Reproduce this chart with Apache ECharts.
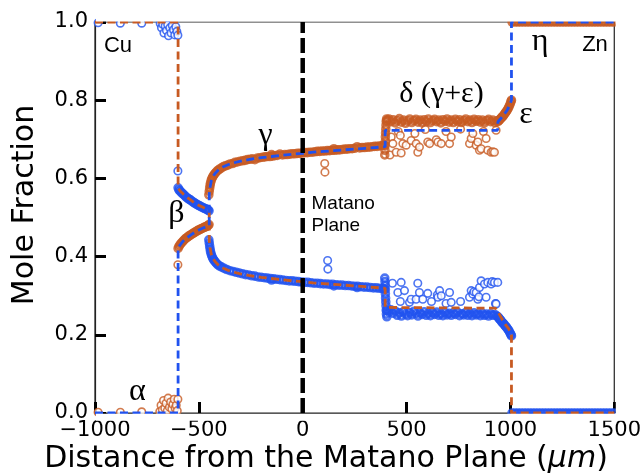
<!DOCTYPE html>
<html>
<head>
<meta charset="utf-8">
<script src="https://cdn.jsdelivr.net/npm/echarts@6/dist/echarts.min.js"></script>
<style>
  html, body { margin: 0; padding: 0; background: #fff; }
  #chart { width: 644px; height: 476px; }
</style>
</head>
<body>
<div id="chart"></div>
<script>
// Cu–Zn diffusion couple: measured mole fractions (circles) and fitted profiles (dashed)

const xTicks = [-1000, -500, 0, 500, 1000, 1500];
const yTicks = [0.0, 0.2, 0.4, 0.6, 0.8, 1.0];

// ---- Zn measurements (orange circles) ----
const znAlpha = [[-985,0.002],[-878,0.002],[-775,0.003],[-688,0.004],[-682,0.02],[-676,0.008],[-670,0.032],[-664,0.012],[-658,0.025],[-652,0.006],[-648,0.038],[-642,0.015],[-636,0.028],[-630,0.01],[-625,0.022],[-619,0.035],[-614,0.012],[-609,0.02],[-604,0.006],[-601,0.035]];
const znEdge = [[-601,0.379]];
const znBeta = [[-600,0.421],[-596,0.426],[-591,0.43],[-586,0.434],[-580,0.437],[-574,0.441],[-568,0.444],[-562,0.447],[-556,0.449],[-550,0.452],[-544,0.454],[-538,0.456],[-532,0.458],[-526,0.46],[-520,0.462],[-514,0.464],[-508,0.466],[-502,0.468],[-496,0.469],[-490,0.471],[-484,0.472],[-478,0.474],[-472,0.475],[-466,0.477],[-460,0.478],[-455,0.48],[-451,0.482]];
const znGammaOut = [[106,0.638],[107,0.616]];
const znGamma = [[-452,0.558],[-450,0.567],[-448,0.575],[-446,0.582],[-444,0.588],[-441,0.594],[-438,0.599],[-434,0.603],[-430,0.607],[-425,0.611],[-420,0.614],[-414,0.618],[-407,0.621],[-400,0.624],[-391,0.627],[-382,0.63],[-372,0.632],[-361,0.634],[-350,0.637],[-338,0.638],[-326,0.641],[-314,0.642],[-302,0.644],[-290,0.645],[-278,0.646],[-266,0.648],[-254,0.649],[-242,0.65],[-230,0.648],[-218,0.652],[-206,0.653],[-194,0.654],[-182,0.655],[-170,0.656],[-158,0.656],[-150,0.661],[-146,0.657],[-134,0.658],[-122,0.659],[-110,0.662],[-98,0.66],[-86,0.661],[-74,0.661],[-62,0.662],[-50,0.663],[-38,0.663],[-26,0.664],[-14,0.664],[-2,0.665],[10,0.666],[22,0.666],[34,0.667],[46,0.667],[58,0.668],[70,0.669],[82,0.669],[94,0.67],[106,0.67],[118,0.671],[130,0.671],[142,0.672],[150,0.676],[154,0.672],[166,0.673],[178,0.673],[190,0.674],[202,0.675],[214,0.675],[226,0.676],[238,0.676],[250,0.677],[262,0.681],[274,0.678],[286,0.679],[298,0.679],[310,0.68],[322,0.68],[334,0.681],[346,0.682],[358,0.682],[370,0.683],[382,0.684],[393,0.685]];
const znDeltaOut = [[420,0.66],[426,0.706],[434,0.689],[450,0.667],[460,0.72],[470,0.71],[474,0.665],[482,0.689],[498,0.685],[522,0.697],[540,0.715],[546,0.689],[554,0.667],[562,0.68],[590,0.725],[602,0.693],[611,0.689],[643,0.699],[651,0.693],[667,0.689],[690,0.72],[707,0.689],[715,0.706],[760,0.726],[803,0.689],[811,0.702],[819,0.715],[835,0.685],[843,0.693],[851,0.672],[859,0.676],[870,0.72],[883,0.702],[891,0.672],[907,0.667],[915,0.668],[923,0.667],[931,0.723]];
const znDeltaStep = [[395,0.66],[396,0.672],[397,0.684],[398,0.695],[398,0.706],[399,0.716],[400,0.726],[401,0.736],[402,0.746],[404,0.752]];
const znDelta = [[405,0.748],[415,0.752],[425,0.745],[435,0.75],[445,0.742],[455,0.748],[465,0.753],[475,0.744],[485,0.749],[495,0.741],[505,0.747],[515,0.752],[525,0.743],[535,0.748],[545,0.751],[555,0.744],[565,0.749],[575,0.742],[585,0.75],[595,0.745],[605,0.752],[615,0.743],[625,0.748],[635,0.751],[645,0.745],[655,0.749],[665,0.742],[675,0.75],[685,0.746],[695,0.752],[705,0.744],[715,0.749],[725,0.743],[735,0.751],[745,0.746],[755,0.75],[765,0.743],[775,0.748],[785,0.752],[795,0.745],[805,0.749],[815,0.743],[825,0.751],[835,0.746],[845,0.75],[855,0.744],[865,0.749],[875,0.742],[885,0.748],[895,0.751],[905,0.745],[915,0.749],[925,0.743],[935,0.747]];
const znEps = [[940,0.745],[944,0.748],[948,0.75],[952,0.752],[956,0.755],[960,0.757],[964,0.759],[968,0.762],[972,0.765],[976,0.768],[980,0.771],[984,0.774],[988,0.778],[992,0.782],[996,0.787],[1000,0.792],[1003,0.797],[1005,0.8]];
const znEta = [[1008,1],[1022,1],[1036,1],[1050,1],[1064,1],[1078,1],[1092,1],[1106,1],[1120,1],[1134,1],[1148,1],[1162,1],[1176,1],[1190,1],[1204,1],[1218,1],[1232,1],[1246,1],[1260,1],[1274,1],[1288,1],[1302,1],[1316,1],[1330,1],[1344,1],[1358,1],[1372,1],[1386,1],[1400,1],[1414,1],[1428,1],[1442,1],[1456,1],[1470,1],[1484,1],[1498,1]];

// ---- Cu measurements (blue circles) ----
const cuAlpha = [[-985,0.998],[-878,0.997],[-775,0.997],[-686,0.996],[-680,0.985],[-674,0.994],[-668,0.972],[-662,0.99],[-656,0.978],[-650,0.993],[-646,0.965],[-640,0.985],[-634,0.972],[-628,0.991],[-622,0.98],[-616,0.967],[-611,0.988],[-606,0.976],[-601,0.966]];
const cuEdge = [[-601,0.619]];
const cuBeta = [[-600,0.576],[-596,0.571],[-591,0.568],[-586,0.565],[-580,0.562],[-574,0.559],[-568,0.556],[-562,0.553],[-556,0.55],[-550,0.548],[-544,0.546],[-538,0.544],[-532,0.541],[-526,0.539],[-520,0.537],[-514,0.535],[-508,0.533],[-502,0.531],[-496,0.53],[-490,0.528],[-484,0.526],[-478,0.525],[-472,0.523],[-466,0.522],[-460,0.52],[-455,0.519],[-451,0.517]];
const cuGammaOut = [[120,0.39],[121,0.368]];
const cuGamma = [[-452,0.443],[-450,0.435],[-448,0.427],[-446,0.42],[-444,0.413],[-441,0.407],[-438,0.402],[-434,0.397],[-430,0.393],[-425,0.389],[-420,0.386],[-414,0.382],[-408,0.379],[-400,0.376],[-390,0.373],[-378,0.37],[-365,0.367],[-350,0.364],[-335,0.362],[-320,0.36],[-305,0.358],[-290,0.356],[-275,0.354],[-260,0.353],[-245,0.351],[-230,0.35],[-215,0.348],[-200,0.347],[-185,0.346],[-170,0.345],[-155,0.344],[-150,0.34],[-140,0.343],[-125,0.342],[-110,0.341],[-95,0.34],[-80,0.339],[-65,0.338],[-50,0.338],[-35,0.337],[-20,0.336],[-5,0.335],[10,0.334],[25,0.334],[40,0.333],[55,0.332],[70,0.332],[85,0.331],[100,0.33],[115,0.33],[130,0.329],[145,0.329],[150,0.325],[160,0.328],[175,0.327],[190,0.327],[205,0.326],[220,0.326],[235,0.325],[250,0.324],[262,0.321],[265,0.324],[280,0.323],[295,0.322],[310,0.322],[325,0.321],[340,0.32],[355,0.32],[370,0.319],[385,0.318],[393,0.317]];
const cuDeltaOut = [[432,0.332],[458,0.308],[470,0.285],[474,0.334],[490,0.313],[514,0.283],[522,0.291],[546,0.291],[554,0.332],[562,0.308],[578,0.291],[602,0.306],[620,0.285],[648,0.302],[651,0.296],[659,0.313],[667,0.3],[690,0.28],[707,0.308],[715,0.283],[760,0.285],[803,0.296],[811,0.313],[819,0.304],[824,0.31],[835,0.308],[843,0.291],[848,0.297],[851,0.321],[859,0.338],[875,0.33],[883,0.296],[891,0.334],[907,0.33],[912,0.336],[923,0.334],[928,0.28],[931,0.279],[939,0.334]];
const cuDeltaStep = [[395,0.345],[396,0.336],[397,0.326],[398,0.316],[398,0.305],[399,0.294],[400,0.284],[401,0.274],[402,0.263],[403,0.253],[405,0.246]];
const cuDelta = [[405,0.262],[415,0.258],[425,0.264],[435,0.255],[445,0.261],[455,0.25],[465,0.256],[475,0.248],[485,0.259],[495,0.253],[505,0.249],[515,0.257],[525,0.251],[535,0.26],[545,0.254],[555,0.248],[565,0.256],[575,0.252],[585,0.259],[595,0.25],[605,0.255],[615,0.249],[625,0.257],[635,0.252],[645,0.258],[655,0.25],[665,0.254],[675,0.249],[685,0.257],[695,0.251],[705,0.255],[715,0.25],[725,0.256],[735,0.252],[745,0.258],[755,0.249],[765,0.254],[775,0.251],[785,0.257],[795,0.25],[805,0.255],[815,0.249],[825,0.256],[835,0.251],[845,0.254],[855,0.249],[865,0.255],[875,0.25],[885,0.253],[895,0.248],[905,0.254],[915,0.25],[925,0.252],[935,0.248]];
const cuEps = [[940,0.246],[944,0.243],[948,0.24],[952,0.238],[956,0.235],[960,0.232],[964,0.23],[968,0.228],[972,0.225],[976,0.222],[980,0.22],[984,0.217],[988,0.214],[992,0.211],[996,0.207],[1000,0.203],[1003,0.2],[1005,0.197]];
const cuEta = [[1008,0],[1022,0],[1036,0],[1050,0],[1064,0],[1078,0],[1092,0],[1106,0],[1120,0],[1134,0],[1148,0],[1162,0],[1176,0],[1190,0],[1204,0],[1218,0],[1232,0],[1246,0],[1260,0],[1274,0],[1288,0],[1302,0],[1316,0],[1330,0],[1344,0],[1358,0],[1372,0],[1386,0],[1400,0],[1414,0],[1428,0],[1442,0],[1456,0],[1470,0],[1484,0],[1498,0]];

// ---- fitted profiles ----
const znFit = [[-1000,0],[-600,0],[-600,0.422],[-590,0.43],[-575,0.44],[-560,0.447],[-540,0.455],[-520,0.462],[-500,0.468],[-480,0.473],[-460,0.477],[-450,0.48],[-450,0.56],[-446,0.578],[-440,0.594],[-432,0.605],[-420,0.614],[-405,0.622],[-385,0.629],[-360,0.635],[-330,0.64],[-300,0.644],[-250,0.649],[-200,0.653],[-150,0.656],[-100,0.659],[-50,0.662],[0,0.664],[50,0.667],[100,0.669],[150,0.671],[200,0.673],[250,0.675],[300,0.677],[350,0.679],[397,0.681],[397,0.723],[938,0.723],[940,0.745],[960,0.757],[984,0.774],[998,0.79],[1005,0.8],[1005,1],[1500,1]];
const cuFit = [[-1000,1],[-600,1],[-600,0.575],[-590,0.568],[-575,0.56],[-560,0.553],[-540,0.545],[-520,0.537],[-500,0.531],[-480,0.526],[-460,0.521],[-450,0.518],[-450,0.44],[-446,0.422],[-440,0.406],[-432,0.395],[-420,0.386],[-405,0.378],[-385,0.371],[-360,0.365],[-330,0.36],[-300,0.356],[-250,0.351],[-200,0.347],[-150,0.344],[-100,0.341],[-50,0.338],[0,0.336],[50,0.333],[100,0.331],[150,0.329],[200,0.327],[250,0.325],[300,0.323],[350,0.321],[397,0.319],[397,0.27],[928,0.268],[945,0.254],[968,0.232],[992,0.215],[1005,0.2],[1005,0],[1500,0]];

// Matano plane position
const matano = [[0,0],[0,1]];

const ORANGE = '#c75a22';
const BLUE = '#2052ef';

const GRID = { left: 95, right: 29, top: 22, bottom: 63 };
const W = 644, H = 476;

const chart = echarts.init(document.getElementById('chart'), null, { renderer: 'canvas' });

// isolated measurement points: thin open circles
function circles(name, color, data) {
  return {
    name, type: 'scatter', data, z: 2,
    symbol: 'circle', symbolSize: 7.5,
    itemStyle: { color: '#fff', borderColor: color, borderWidth: 1.6 },
    emphasis: { disabled: true }, animation: false
  };
}
// closely spaced measurement points along a phase: rings merge into a band
function band(name, color, data) {
  return {
    name, type: 'scatter', data, z: 2,
    symbol: 'circle', symbolSize: 7,
    itemStyle: { color: 'rgba(255,255,255,0)', borderColor: color, borderWidth: 2.6 },
    emphasis: { disabled: true }, animation: false
  };
}
function fit(name, color, data) {
  return {
    name, type: 'line', data, z: 3, symbol: 'none', clip: true,
    lineStyle: { color, width: 2.8, type: [8, 4.5] },
    emphasis: { disabled: true }, animation: false
  };
}

const serif = '"Liberation Serif", "DejaVu Serif", serif';
const sans = '"Liberation Sans", Arial, sans-serif';
const dejavu = '"DejaVu Sans", sans-serif';
function note(text, x, y, size, family, align, extra) {
  return Object.assign({
    type: 'text', z: 50, x, y,
    style: { text, fill: '#000', font: size + 'px ' + family,
             textAlign: align || 'center', textVerticalAlign: 'middle' }
  }, extra || {});
}
function mask(x, y, w, h) {
  return { type: 'rect', z: 100, silent: true, shape: { x, y, width: w, height: h }, style: { fill: '#fff' } };
}

const gx0 = GRID.left, gx1 = W - GRID.right, gy0 = GRID.top, gy1 = H - GRID.bottom;

chart.setOption({
  animation: false,
  backgroundColor: '#fff',
  grid: { ...GRID, show: true, borderColor: '#222', borderWidth: 1.2, backgroundColor: 'transparent' },
  xAxis: {
    type: 'value', min: xTicks[0], max: xTicks[xTicks.length - 1], interval: 500,
    axisLine: { show: true, onZero: false, lineStyle: { color: '#222', width: 1.2 } },
    axisTick: { show: true, inside: true, length: 11, lineStyle: { color: '#000', width: 3 } },
    axisLabel: { margin: 7, color: '#000', fontSize: 21, fontFamily: '"DejaVu Sans"',
                 formatter: v => (v < 0 ? '\u2212' : '') + Math.abs(v) },
    splitLine: { show: false }
  },
  yAxis: {
    type: 'value', min: yTicks[0], max: yTicks[yTicks.length - 1], interval: 0.2,
    axisLine: { show: true, onZero: false, lineStyle: { color: '#222', width: 1.2 } },
    axisTick: { show: true, inside: true, length: 11, lineStyle: { color: '#000', width: 3 } },
    axisLabel: { margin: 7, color: '#000', fontSize: 21, fontFamily: '"DejaVu Sans"',
                 formatter: v => v.toFixed(1) },
    splitLine: { show: false }
  },
  series: [
    circles('Zn', ORANGE, [...znAlpha, ...znEdge, ...znGammaOut, ...znDeltaOut]),
    band('Zn', ORANGE, [...znBeta, ...znGamma, ...znDeltaStep, ...znDelta, ...znEps, ...znEta]),
    circles('Cu', BLUE, [...cuAlpha, ...cuEdge, ...cuGammaOut, ...cuDeltaOut]),
    band('Cu', BLUE, [...cuBeta, ...cuGamma, ...cuDeltaStep, ...cuDelta, ...cuEps, ...cuEta]),
    fit('Cu fit', ORANGE, cuFit),
    fit('Zn fit', BLUE, znFit),
    {
      name: 'Matano plane', type: 'line', data: matano, z: 4, symbol: 'none',
      lineStyle: { color: '#000', width: 4.5, type: [15, 5] }, animation: false
    }
  ],
  graphic: [
    // keep circles on the frame edges inside the plotting area
    mask(gx0 + 1, 0, W - gx0, gy0 - 0.6),
    mask(gx1 + 0.8, 0, W - gx1, gy1 + 6),
    mask(gx0 + 1, gy1 + 0.8, W - gx0, 7),
    // axis titles
    {
      type: 'text', z: 50, x: 326, y: 459,
      style: {
        text: '{a|Distance from the Matano Plane (}{i|\u03bcm}{a|)}',
        textAlign: 'center', textVerticalAlign: 'middle',
        rich: {
          a: { font: '30px ' + dejavu, fill: '#000' },
          i: { font: 'italic 30px ' + dejavu, fill: '#000' }
        }
      }
    },
    note('Mole Fraction', 25, 205, 30, dejavu, 'center', { rotation: Math.PI / 2 }),
    // phase and element labels
    note('Cu', 118, 46, 22, sans),
    note('Zn', 595, 45, 22, sans),
    note('\u03b1', 137.5, 392, 32, serif),
    note('\u03b2', 176.5, 214, 32, serif),
    note('\u03b3', 265.5, 136, 32, serif),
    note('\u03b4 (\u03b3+\u03b5)', 441.5, 94, 30, serif),
    note('\u03b5', 526, 115, 32, serif),
    note('\u03b7', 540, 42, 32, serif),
    note('Matano', 311.5, 204, 19, sans, 'left'),
    note('Plane', 311.5, 226, 19, sans, 'left')
  ]
});
</script>
</body>
</html>
